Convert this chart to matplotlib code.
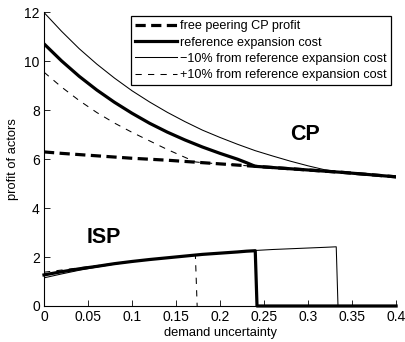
import numpy as np
import matplotlib
matplotlib.use("Agg")
import matplotlib.pyplot as plt

plt.rcParams["font.family"] = ["Liberation Sans", "DejaVu Sans"]

# demand uncertainty grid and the free peering CP profit along it
x_grid = [0.00, 0.02, 0.04, 0.06, 0.08, 0.10, 0.12, 0.14, 0.16, 0.18, 0.20,
          0.22, 0.24, 0.26, 0.28, 0.30, 0.32, 0.34, 0.36, 0.38, 0.40]
cp_free = [6.30, 6.24, 6.19, 6.14, 6.09, 6.04, 6.00, 5.96, 5.91, 5.86, 5.81,
           5.76, 5.71, 5.66, 5.61, 5.56, 5.51, 5.46, 5.40, 5.34, 5.28]

# CP profit before the curves join the free peering profit
x_ref = [0.00, 0.02, 0.04, 0.06, 0.08, 0.10, 0.12, 0.14, 0.16, 0.18, 0.20, 0.22, 0.23, 0.24]
cp_ref = [10.72, 10.02, 9.39, 8.83, 8.33, 7.88, 7.47, 7.11, 6.79, 6.50, 6.24, 6.00, 5.86, 5.71]

x_lo = [0.00, 0.02, 0.04, 0.06, 0.08, 0.10, 0.12, 0.14, 0.16, 0.18, 0.20,
        0.22, 0.24, 0.26, 0.28, 0.30, 0.32, 0.332]
cp_lo = [12.00, 11.23, 10.52, 9.89, 9.32, 8.80, 8.34, 7.92, 7.54, 7.19, 6.89,
         6.61, 6.35, 6.13, 5.92, 5.73, 5.56, 5.50]

x_hi = [0.00, 0.02, 0.04, 0.06, 0.08, 0.10, 0.12, 0.14, 0.16, 0.172]
cp_hi = [9.56, 8.95, 8.40, 7.91, 7.48, 7.10, 6.75, 6.40, 6.08, 5.89]

# ISP profit up to the point where it drops to zero
isp_ref = [1.27, 1.40, 1.52, 1.62, 1.73, 1.82, 1.90, 1.97, 2.04, 2.11, 2.16, 2.21, 2.24, 2.26]
isp_lo = [1.15, 1.31, 1.46, 1.59, 1.71, 1.81, 1.90, 1.97, 2.04, 2.11, 2.16,
          2.21, 2.27, 2.31, 2.34, 2.37, 2.40, 2.42]
isp_hi = [1.38, 1.47, 1.56, 1.65, 1.74, 1.82, 1.90, 1.97, 2.04, 2.08]

labels = ["free peering CP profit", "reference expansion cost",
          "\u221210% from reference expansion cost",
          "+10% from reference expansion cost"]

x_ticks = [0, 0.05, 0.1, 0.15, 0.2, 0.25, 0.3, 0.35, 0.4]
x_tick_labels = ["0", "0.05", "0.1", "0.15", "0.2", "0.25", "0.3", "0.35", "0.4"]
y_ticks = [0, 2, 4, 6, 8, 10, 12]


def join_free(xs, ys):
    """Continue a CP curve along the free peering profit after it meets it."""
    xg = np.array(x_grid)
    keep = xg > xs[-1]
    return np.r_[xs, xg[keep]], np.r_[ys, np.array(cp_free)[keep]]


def drop_to_zero(xs, ys, to_end=True):
    """ISP curve falls to zero (and optionally runs along it to the axis end)."""
    if to_end:
        return np.r_[xs, xs[-1] + 0.002, 0.4], np.r_[ys, 0, 0]
    return np.r_[xs, xs[-1] + 0.002], np.r_[ys, 0]


fig = plt.figure(figsize=(4.05, 3.42), dpi=100)
ax = fig.add_axes([0.1086, 0.1053, 0.8694, 0.8582])

thick = 2.3
thin = 0.75
dash_thick = (0, (3.2, 1.7))
dash_thin = (0, (6, 6))

# CP curves
ax.plot(x_grid, cp_free, color="black", lw=thick, ls=dash_thick, label=labels[0])
xr, yr = join_free(x_ref, cp_ref)
ax.plot(xr, yr, color="black", lw=thick, label=labels[1])
xl, yl = join_free(x_lo, cp_lo)
ax.plot(xl, yl, color="black", lw=thin, label=labels[2])
xh, yh = join_free(x_hi, cp_hi)
ax.plot(xh, yh, color="black", lw=thin, ls=dash_thin, label=labels[3])

# ISP curves
xr, yr = drop_to_zero(x_ref, isp_ref)
ax.plot(xr, yr, color="black", lw=thick, clip_on=False)
xl, yl = drop_to_zero(x_lo, isp_lo, to_end=False)
ax.plot(xl, yl, color="black", lw=thin)
xh, yh = drop_to_zero(x_hi, isp_hi, to_end=False)
ax.plot(xh, yh, color="black", lw=thin, ls=dash_thin)

ax.text(0.2966, 7.0, "CP", fontsize=15.5, fontweight="bold", ha="center", va="center")
ax.text(0.068, 2.78, "ISP", fontsize=15.5, fontweight="bold", ha="center", va="center")

ax.set_xlim(0, 0.4)
ax.set_ylim(0, 12)
ax.set_xticks(x_ticks)
ax.set_xticklabels(x_tick_labels)
ax.set_yticks(y_ticks)
ax.tick_params(direction="in", length=4, width=0.6, labelsize=10, pad=3)
for side in ["top", "right"]:
    ax.spines[side].set_visible(False)
for side in ["left", "bottom"]:
    ax.spines[side].set_linewidth(0.8)

ax.set_xlabel("demand uncertainty", fontsize=9.3, labelpad=2)
ax.set_ylabel("profit of actors", fontsize=9.3, labelpad=4)

leg = ax.legend(loc="upper right", bbox_to_anchor=(0.986, 0.988), borderaxespad=0,
                fontsize=9.1, fancybox=False, framealpha=1, edgecolor="black",
                handlelength=3.3, handletextpad=0.25, borderpad=0.35,
                labelspacing=0.33)
leg.get_frame().set_linewidth(0.9)

fig.savefig("out.png", dpi=100)
